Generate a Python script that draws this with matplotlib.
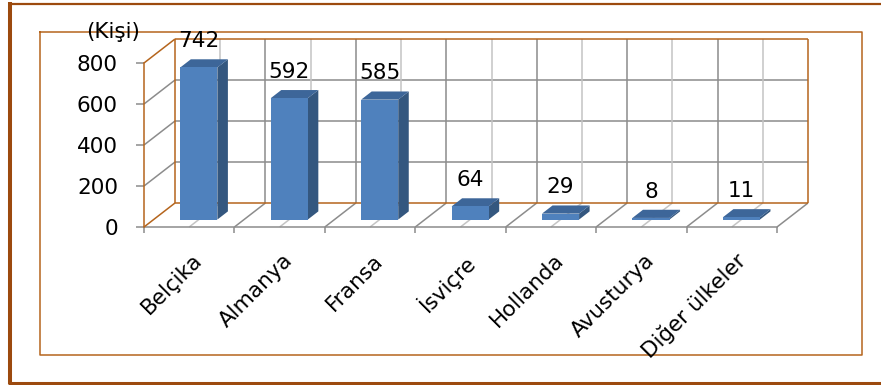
import matplotlib
matplotlib.use("Agg")
import matplotlib.pyplot as plt
from matplotlib.patches import Polygon

# Yurt dışına giden kişi sayısı, ülkelere göre
ulkeler = ["Belçika", "Almanya", "Fransa", "İsviçre", "Hollanda", "Avusturya", "Diğer ülkeler"]
kisi = [742, 592, 585, 64, 29, 8, 11]
y_ticks = [0, 200, 400, 600, 800]
y_label = "(Kişi)"

BROWN_DARK = "#9c4a0e"
BROWN = "#b5651d"
GRID_DARK = "#8c8c8c"
GRID_LIGHT = "#c4c4c4"
FRONT = "#4f81bd"
TOP = "#3d6699"
SIDE = "#34577f"
FS = 15.5

W, H = 881, 385
fig = plt.figure(figsize=(W / 100, H / 100), dpi=100)

# arka plan: çerçeveler
bg = fig.add_axes([0, 0, 1, 1])
bg.set_xlim(0, W)
bg.set_ylim(H, 0)
bg.axis("off")
bg.plot([10, 10], [2, 384], color=BROWN_DARK, lw=2.9, solid_capstyle="butt")
bg.plot([8, W], [4, 4], color=BROWN_DARK, lw=1.6, solid_capstyle="butt")
bg.plot([8, W], [383, 383], color=BROWN_DARK, lw=2.2, solid_capstyle="butt")
bg.plot([39.5, 861.5, 861.5, 39.5, 39.5], [32, 32, 355, 355, 32], color=BROWN, lw=1.1)
bg.text(113, 32, y_label, fontsize=FS, ha="center", va="center", zorder=5)

# grafik alanı (ön yüz koordinatları)
n = len(ulkeler)
ax = fig.add_axes([144 / W, (H - 227) / H, 633 / W, 164 / H])
ax.set_xlim(-0.5, n - 0.5)
ax.set_ylim(0, 800)
ax.patch.set_visible(False)

# derinlik kayması (veri birimlerinde)
px_x = 633 / n
px_y = 164 / 800
DX = 31 / px_x
DY = 24 / px_y


def proj(x, v, z):
    return x + z * DX, v + z * DY


def line3(p, q, **kw):
    a = proj(*p)
    b = proj(*q)
    ax.plot([a[0], b[0]], [a[1], b[1]], clip_on=False, solid_capstyle="butt", **kw)


x0, x1 = -0.5, n - 0.5
ymax = y_ticks[-1]

# arka duvar
ax.add_patch(Polygon([proj(x0, 0, 1), proj(x1, 0, 1), proj(x1, ymax, 1), proj(x0, ymax, 1)],
                     closed=True, facecolor="white", edgecolor="none", zorder=1, clip_on=False))
for v in y_ticks[1:-1]:
    line3((x0, v, 1), (x1, v, 1), color=GRID_DARK, lw=1.1, zorder=2)
    line3((x0, v, 0), (x0, v, 1), color=GRID_DARK, lw=1.1, zorder=2)
for i in range(n):
    line3((i, 0, 1), (i, ymax, 1), color=GRID_LIGHT, lw=1.1, zorder=2)
    line3((i, 0, 0), (i, 0, 1), color=GRID_LIGHT, lw=1.1, zorder=2)
for i in range(1, n):
    b = i - 0.5
    line3((b, 0, 1), (b, ymax, 1), color=GRID_DARK, lw=1.1, zorder=2)
    line3((b, 0, 0), (b, 0, 1), color=GRID_DARK, lw=1.1, zorder=2)
line3((x1, 0, 0), (x1, 0, 1), color=GRID_DARK, lw=1.1, zorder=2)

# duvar kenarları
for p, q in [((x0, 0, 1), (x1, 0, 1)), ((x1, 0, 1), (x1, ymax, 1)),
             ((x1, ymax, 1), (x0, ymax, 1)), ((x0, ymax, 1), (x0, 0, 1)),
             ((x0, 0, 0), (x0, 0, 1)), ((x0, ymax, 0), (x0, ymax, 1))]:
    line3(p, q, color=BROWN, lw=1.1, zorder=3)

# sütunlar
zf, zb = 0.31, 0.65
bw = 0.41
for i, v in enumerate(kisi):
    l, r = i - bw / 2, i + bw / 2
    front = [proj(l, 0, zf), proj(r, 0, zf), proj(r, v, zf), proj(l, v, zf)]
    side = [proj(r, 0, zf), proj(r, 0, zb), proj(r, v, zb), proj(r, v, zf)]
    top = [proj(l, v, zf), proj(r, v, zf), proj(r, v, zb), proj(l, v, zb)]
    ax.add_patch(Polygon(side, closed=True, facecolor=SIDE, edgecolor="none", zorder=5, clip_on=False))
    ax.add_patch(Polygon(top, closed=True, facecolor=TOP, edgecolor="none", zorder=5, clip_on=False))
    ax.add_patch(Polygon(front, closed=True, facecolor=FRONT, edgecolor="none", zorder=6, clip_on=False))
    lx, _ = proj(i, v, zf)
    _, ly = proj(i, v, zb)
    ax.annotate(str(v), (lx, ly), xytext=(0, 18), textcoords="offset pixels",
                ha="center", va="center", fontsize=FS, zorder=8, annotation_clip=False)

# kategori etiketleri
for i, name in enumerate(ulkeler):
    ax.annotate(name, (i, 0), xytext=(3, -23), textcoords="offset pixels",
                ha="right", va="top", rotation=45, rotation_mode="anchor",
                fontsize=FS, annotation_clip=False)

# eksenler
for s in ["top", "right"]:
    ax.spines[s].set_visible(False)
ax.spines["left"].set_color(BROWN)
ax.spines["left"].set_linewidth(1.1)
ax.spines["left"].set_zorder(3)
ax.spines["bottom"].set_color(GRID_DARK)
ax.spines["bottom"].set_linewidth(1.1)
ax.set_yticks(y_ticks)
ax.set_yticklabels([str(t) for t in y_ticks])
ax.tick_params(axis="y", length=5.8, width=1.1, color=GRID_DARK, pad=13, labelsize=FS)
ax.set_xticks([i - 0.5 for i in range(n + 1)])
ax.set_xticklabels([])
ax.tick_params(axis="x", length=4.5, width=1.1, color=GRID_DARK)

fig.savefig("out.png", dpi=100)
